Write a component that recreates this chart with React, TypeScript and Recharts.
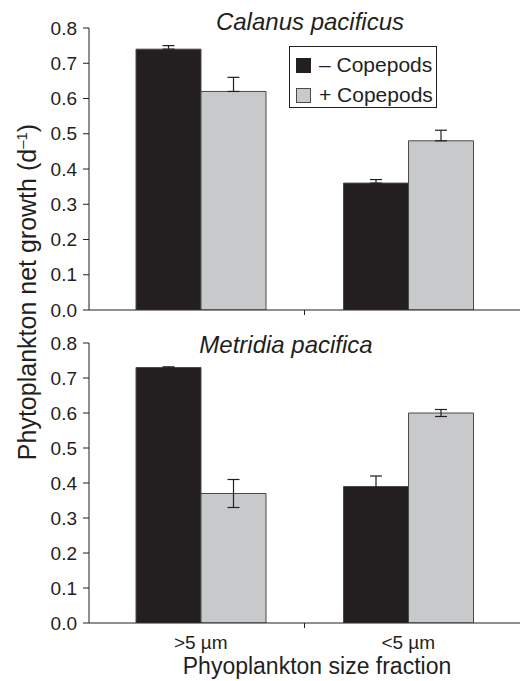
import { BarChart, Bar, XAxis, YAxis, ErrorBar, Legend } from "recharts";

const categories = [">5 µm", "<5 µm"];
const yTicks = [0, 0.1, 0.2, 0.3, 0.4, 0.5, 0.6, 0.7, 0.8];

// Calanus pacificus (top panel), error bars drawn upward only
const calanusMinus = [0.74, 0.36];
const calanusMinusErr = [0.01, 0.01];
const calanusPlus = [0.62, 0.48];
const calanusPlusErr = [0.04, 0.03];

// Metridia pacifica (bottom panel), error bars both ways
const metridiaMinus = [0.73, 0.39];
const metridiaMinusErr = [0.002, 0.03];
const metridiaPlus = [0.37, 0.6];
const metridiaPlusErr = [0.04, 0.01];

const INK = "#231f20";
const GREY = "#c8c9cb";
const EDGE = "#4a4a4c";
const FONT = "'Liberation Sans', Arial, Helvetica, sans-serif";
const X_TICK_SIZE = 6;
const X_TICK_MARGIN = 7;

const calanusRows = categories.map((name, i) => ({
  name,
  minus: calanusMinus[i],
  minusErr: [0, calanusMinusErr[i]],
  plus: calanusPlus[i],
  plusErr: [0, calanusPlusErr[i]],
}));

const metridiaRows = categories.map((name, i) => ({
  name,
  minus: metridiaMinus[i],
  minusErr: [metridiaMinusErr[i], metridiaMinusErr[i]],
  plus: metridiaPlus[i],
  plusErr: [metridiaPlusErr[i], metridiaPlusErr[i]],
}));

// category tick: a short mark on the boundary between bands, plus the label
const CategoryTick = (props: any) => {
  const { x, y, payload, index, showLabel } = props;
  const half = payload?.offset ?? 0;
  const axisY = y - X_TICK_SIZE - X_TICK_MARGIN;
  return (
    <g>
      {index > 0 && (
        <line x1={x - half} x2={x - half} y1={axisY} y2={axisY + 5} stroke={INK} strokeWidth={1} />
      )}
      {showLabel && (
        <text x={x} y={y} dy="0.71em" textAnchor="middle" fontSize={19} fill={INK}>
          {payload.value}
        </text>
      )}
    </g>
  );
};

const LegendBox = () => (
  <div
    style={{
      position: "relative",
      width: 148,
      height: 62,
      boxSizing: "border-box",
      border: `1px solid ${INK}`,
      background: "#fff",
      fontFamily: FONT,
      fontSize: 21,
      lineHeight: "21px",
      color: INK,
    }}
  >
    <div style={{ position: "absolute", left: 6, top: 11, width: 15, height: 15, background: INK }} />
    <div style={{ position: "absolute", left: 29, top: 7, whiteSpace: "nowrap" }}>– Copepods</div>
    <div
      style={{
        position: "absolute", left: 6, top: 41, width: 15, height: 15,
        boxSizing: "border-box", background: GREY, border: `1px solid ${EDGE}`,
      }}
    />
    <div style={{ position: "absolute", left: 29, top: 37, whiteSpace: "nowrap" }}>+ Copepods</div>
  </div>
);

function Panel({ rows, height, margin, showLabels, showLegend }: {
  rows: typeof calanusRows;
  height: number;
  margin: { top: number; right: number; bottom: number; left: number };
  showLabels: boolean;
  showLegend: boolean;
}) {
  return (
    <BarChart width={520} height={height} data={rows} margin={margin} barSize={65} barGap={0}>
      <XAxis
        dataKey="name"
        height={1}
        padding={{ left: 8, right: 8 }}
        interval={0}
        axisLine={{ stroke: INK }}
        tickLine={false}
        tickSize={X_TICK_SIZE}
        tickMargin={X_TICK_MARGIN}
        tick={<CategoryTick showLabel={showLabels} />}
      />
      <YAxis
        domain={[0, 0.8]}
        ticks={yTicks}
        interval={0}
        allowDataOverflow
        width={89}
        tickSize={6}
        tickMargin={6}
        tickFormatter={(v: number) => v.toFixed(1)}
        axisLine={{ stroke: INK }}
        tickLine={{ stroke: INK }}
        tick={{ fill: INK, fontSize: 19 }}
      />
      {showLegend && (
        <Legend
          layout="vertical"
          align="center"
          verticalAlign="middle"
          content={() => <LegendBox />}
          wrapperStyle={{ top: 46, left: 289, width: 148, height: 62 }}
        />
      )}
      <Bar dataKey="minus" fill={INK} stroke={EDGE} strokeWidth={1} isAnimationActive={false}>
        <ErrorBar dataKey="minusErr" width={6} stroke={INK} strokeWidth={1.2} direction="y" />
      </Bar>
      <Bar dataKey="plus" fill={GREY} stroke={EDGE} strokeWidth={1} isAnimationActive={false}>
        <ErrorBar dataKey="plusErr" width={6} stroke={INK} strokeWidth={1.2} direction="y" />
      </Bar>
    </BarChart>
  );
}

export default function App() {
  return (
    <div
      style={{
        position: "absolute", top: 0, left: 0, width: 520, height: 681,
        background: "#fff", fontFamily: FONT, overflow: "hidden",
      }}
    >
      <div style={{ position: "absolute", top: 0, left: 0 }}>
        <Panel
          rows={calanusRows}
          height={322}
          margin={{ top: 28, right: 0, bottom: 11, left: 0 }}
          showLabels={false}
          showLegend
        />
      </div>
      <div style={{ position: "absolute", top: 322, left: 0 }}>
        <Panel
          rows={metridiaRows}
          height={359}
          margin={{ top: 21, right: 0, bottom: 57, left: 0 }}
          showLabels
          showLegend={false}
        />
      </div>
      <svg
        width={520}
        height={681}
        style={{ position: "absolute", top: 0, left: 0, pointerEvents: "none" }}
      >
        <text x={310} y={30} textAnchor="middle" fontSize={24} fontStyle="italic" fill={INK}>
          Calanus pacificus
        </text>
        <text x={286} y={353} textAnchor="middle" fontSize={24} fontStyle="italic" fill={INK}>
          Metridia pacifica
        </text>
        <text x={317} y={674} textAnchor="middle" fontSize={23} fill={INK}>
          Phyoplankton size fraction
        </text>
        <text transform="translate(36,292) rotate(-90)" textAnchor="middle" fontSize={25} fill={INK}>
          Phytoplankton net growth (d
          <tspan dy={-9} fontSize={15}>–1</tspan>
          <tspan dy={9}>)</tspan>
        </text>
      </svg>
    </div>
  );
}
